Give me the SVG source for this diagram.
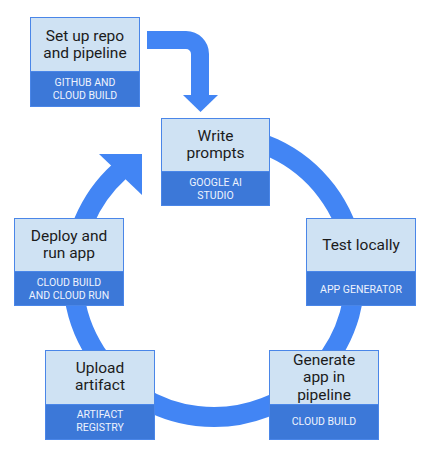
<svg xmlns="http://www.w3.org/2000/svg" width="429" height="450" viewBox="0 0 429 450">
<style>
.top{fill:#cfe2f3;stroke:#4a86e8;stroke-width:1}
.bot{fill:#3c78d8;stroke:#4a86e8;stroke-width:1}
.t{font-family:Roboto,"Liberation Sans",sans-serif;font-size:15.5px;fill:#1b1b1b;text-anchor:middle}
.s{font-family:Roboto,"Liberation Sans",sans-serif;font-size:10.5px;fill:#eef3fd;text-anchor:middle}
.ln{fill:none;stroke:#4285f4}
.hd{fill:#4285f4}
</style>
<rect width="429" height="450" fill="#ffffff"/>
<g id="connectors">
<path class="ln" stroke-width="18" d="M147,40 H186 A14,14 0 0 1 200,54 V96"/>
<polygon class="hd" points="183,95 218,95 200.5,112"/>
<path class="ln" stroke-width="20" d="M214,135 A141,141 0 1 1 119.4,171.4"/>
<polygon class="hd" points="99,154 142,154 142,195"/>
</g>
<g id="setup">
<rect class="top" x="30.5" y="17.5" width="109" height="54"/>
<rect class="bot" x="30.5" y="71.5" width="109" height="35"/>
<text class="t" x="85" y="41">Set up repo</text>
<text class="t" x="85" y="57.5">and pipeline</text>
<text class="s" x="85" y="85.5">GITHUB AND</text>
<text class="s" x="85" y="98.5">CLOUD BUILD</text>
</g>
<g id="write">
<rect class="top" x="161.5" y="118.5" width="108" height="53"/>
<rect class="bot" x="161.5" y="171.5" width="108" height="34"/>
<text class="t" x="215.5" y="141">Write</text>
<text class="t" x="215.5" y="157.5">prompts</text>
<text class="s" x="215.5" y="185.5">GOOGLE AI</text>
<text class="s" x="215.5" y="198.5">STUDIO</text>
</g>
<g id="test">
<rect class="top" x="306.5" y="218.5" width="109" height="53"/>
<rect class="bot" x="306.5" y="271.5" width="109" height="34"/>
<text class="t" x="361" y="250">Test locally</text>
<text class="s" x="361" y="292.5">APP GENERATOR</text>
</g>
<g id="deploy">
<rect class="top" x="14.5" y="218.5" width="109" height="53"/>
<rect class="bot" x="14.5" y="271.5" width="109" height="34"/>
<text class="t" x="69" y="241">Deploy and</text>
<text class="t" x="69" y="257.5">run app</text>
<text class="s" x="69" y="285.5">CLOUD BUILD</text>
<text class="s" x="69" y="298.5">AND CLOUD RUN</text>
</g>
<g id="upload">
<rect class="top" x="45.5" y="350.5" width="109" height="54"/>
<rect class="bot" x="45.5" y="404.5" width="109" height="35"/>
<text class="t" x="100" y="373">Upload</text>
<text class="t" x="100" y="390">artifact</text>
<text class="s" x="100" y="418">ARTIFACT</text>
<text class="s" x="100" y="431">REGISTRY</text>
</g>
<g id="generate">
<rect class="top" x="269.5" y="350.5" width="109" height="54"/>
<rect class="bot" x="269.5" y="404.5" width="109" height="35"/>
<text class="t" x="324" y="364.5">Generate</text>
<text class="t" x="324" y="382">app in</text>
<text class="t" x="324" y="399.5">pipeline</text>
<text class="s" x="324" y="425">CLOUD BUILD</text>
</g>
</svg>
